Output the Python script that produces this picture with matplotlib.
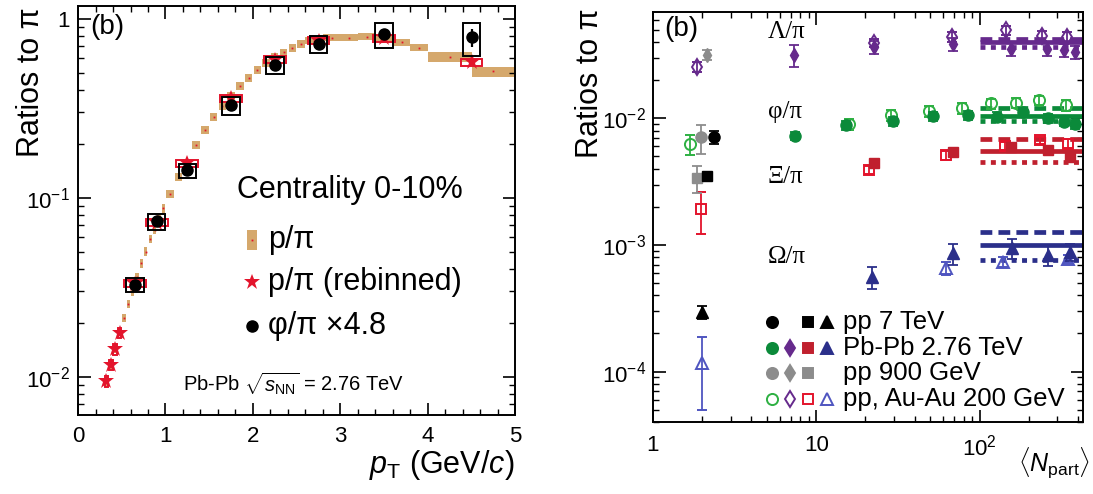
import matplotlib
matplotlib.use('Agg')
import matplotlib.pyplot as plt
import numpy as np
from matplotlib.ticker import FixedLocator, MultipleLocator, LogLocator, NullFormatter, FixedFormatter

plt.rcParams['font.family'] = ['Liberation Sans', 'DejaVu Sans']
plt.rcParams['mathtext.fontset'] = 'custom'
plt.rcParams['mathtext.rm'] = 'Liberation Sans'
plt.rcParams['mathtext.it'] = 'Liberation Sans:italic'
plt.rcParams['mathtext.bf'] = 'Liberation Sans:bold'

# ---------------- Left panel data ----------------
ppi_pt = [0.325, 0.375, 0.425, 0.475, 0.525, 0.575, 0.625, 0.675, 0.725, 0.775, 0.825, 0.875, 0.925, 0.975,
          1.05, 1.15, 1.25, 1.35, 1.45, 1.55, 1.65, 1.75, 1.85, 1.95, 2.05, 2.15, 2.25, 2.35, 2.45, 2.55,
          2.7, 2.9, 3.1, 3.3, 3.5, 3.7, 3.9, 4.25, 4.75]
ppi_val = [0.0094, 0.0117, 0.0144, 0.0178, 0.0213, 0.0255, 0.0300, 0.0360, 0.0430, 0.0500, 0.0590, 0.0660,
           0.0760, 0.0870, 0.105, 0.130, 0.155, 0.198, 0.240, 0.282, 0.325, 0.370, 0.420, 0.468, 0.518,
           0.568, 0.612, 0.648, 0.690, 0.722, 0.755, 0.785, 0.782, 0.796, 0.780, 0.737, 0.691, 0.611, 0.508]
ppi_w = [0.038] * 14 + [0.085] * 16 + [0.2] * 7 + [0.5] * 2
ppi_sys = [0.055] * 14 + [0.05] * 16 + [0.045] * 7 + [0.065] * 2

reb_pt = [0.325, 0.375, 0.425, 0.475, 0.65, 0.9, 1.25, 1.75, 2.25, 2.75, 3.5, 4.5]
reb_val = [0.0094, 0.0116, 0.0142, 0.0175, 0.033, 0.0725, 0.156, 0.36, 0.59, 0.756, 0.78, 0.57]
reb_w = [0.04] * 4 + [0.25] * 8
reb_sys = [0.065] * 4 + [0.045] * 8

phi_pt = [0.65, 0.9, 1.25, 1.75, 2.25, 2.75, 3.5, 4.5]
phi_val = [0.0327, 0.0737, 0.142, 0.328, 0.553, 0.722, 0.821, 0.786]
phi_sys = [0.09, 0.10, 0.09, 0.12, 0.11, 0.11, 0.16, 0.21]
phi_stat = [0.01, 0.01, 0.01, 0.01, 0.015, 0.02, 0.03, 0.11]
phi_w = 0.2

# ---------------- Right panel data ----------------
# pp 7 TeV (black)
pp7_phi_n, pp7_phi_v, pp7_phi_e = [2.37], [0.0071], [0.0008]
pp7_xi_n, pp7_xi_v = [2.13], [0.00351]
pp7_om_n, pp7_om_v, pp7_om_e = [2.0], [2.93e-4], [0.35e-4]
# pp 900 GeV (gray)
pp9_phi_n, pp9_phi_v, pp9_phi_e = [1.98], [0.00705], [0.0018]
pp9_lam_n, pp9_lam_v, pp9_lam_e = [2.15], [0.0317], [0.0028]
pp9_xi_n, pp9_xi_v, pp9_xi_e = [1.85], [0.00339], [0.00081]
# Pb-Pb 2.76 TeV (filled, coloured)
pb_phi_n = [7.45, 15.3, 29.5, 52, 85.6, 128, 184, 262, 330, 383]
pb_phi_v = [0.00726, 0.00881, 0.0095, 0.0104, 0.0106, 0.0103, 0.0112, 0.0100, 0.0094, 0.0090]
pb_lam_n = [7.27, 22.6, 68.5, 157, 260, 330, 383]
pb_lam_v = [0.0317, 0.0364, 0.0387, 0.0353, 0.0353, 0.0343, 0.0332]
pb_lam_e = [0.0062, 0.0045, 0.0045, 0.0042, 0.0042, 0.0040, 0.0040]
pb_xi_n = [22.6, 69, 157, 263, 356]
pb_xi_v = [0.0044, 0.00543, 0.00594, 0.0056, 0.00496]
pb_om_n = [22, 69, 158, 263, 356]
pb_om_v = [5.6e-4, 8.6e-4, 9.4e-4, 8.33e-4, 8.85e-4]
pb_om_e = [1.1e-4, 1.6e-4, 1.7e-4, 1.5e-4, 1.4e-4]
# pp, Au-Au 200 GeV (open)
au_phi_n = [1.68, 15.8, 28.5, 49, 78.6, 118, 168, 232, 338]
au_phi_v = [0.00624, 0.0090, 0.0106, 0.0114, 0.0121, 0.0131, 0.0133, 0.0139, 0.0127]
au_phi_e = [0.0011, 0.0009, 0.0010, 0.0011, 0.0012, 0.0012, 0.0012, 0.0012, 0.0012]
au_lam_n = [1.85, 22.6, 68, 146, 240, 345]
au_lam_v = [0.0254, 0.0393, 0.0442, 0.0494, 0.045, 0.0437]
au_lam_e = [0.0022, 0.003, 0.004, 0.004, 0.004, 0.004]
au_xi_n = [1.98, 21, 62.6, 143, 234, 350]
au_xi_v = [0.00192, 0.0039, 0.0051, 0.00605, 0.0067, 0.0063]
au_xi_e = [0.0007, 0.0003, 0.0004, 0.0004, 0.0004, 0.0005]
au_om_n = [2.0, 62.6, 140, 350]
au_om_v = [1.18e-4, 6.56e-4, 7.4e-4, 7.8e-4]
au_om_e = [0.68e-4, 0.8e-4, 0.7e-4, 0.6e-4]
# model lines (dashed, solid, dotted)
model_n = [100, 450]
lam_model = [0.0425, 0.0400, 0.0365]
phi_model = [0.0121, 0.0104, 0.0096]
xi_model = [0.00692, 0.0055, 0.00453]
om_model = [1.27e-3, 1.0e-3, 7.6e-4]

# ---------------- colours ----------------
TAN = '#D5A86C'
RED = '#E3142C'
GREEN = '#0B8A3A'
LGREEN = '#2DB042'
PURPLE = '#662A8C'
DRED = '#C0202E'
BLUE = '#2B2F8A'
LBLUE = '#4F55C0'
GRAY = '#8C8C8C'

fig = plt.figure(figsize=(10.93, 4.94), dpi=100)
axL = fig.add_axes([0.0714, 0.160, 0.400, 0.828])
axR = fig.add_axes([0.5974, 0.1457, 0.3934, 0.830])

# ================= LEFT =================
axL.set_yscale('log')
pv = np.array(ppi_val); ps = np.array(ppi_sys)
axL.bar(ppi_pt, 2 * pv * ps, bottom=pv * (1 - ps), width=ppi_w, color=TAN, linewidth=0, zorder=1)
axL.plot(ppi_pt, ppi_val, 's', ms=1.3, color=RED, mew=0, zorder=2)
rv = np.array(reb_val); rs = np.array(reb_sys)
axL.bar(reb_pt, 2 * rv * rs, bottom=rv * (1 - rs), width=reb_w, fill=False, edgecolor=RED, linewidth=1.4, zorder=3)
axL.plot(reb_pt, reb_val, '*', ms=12, color=RED, mew=0, zorder=4)
fv = np.array(phi_val); fs = np.array(phi_sys)
axL.bar(phi_pt, 2 * fv * fs, bottom=fv * (1 - fs), width=phi_w, fill=False, edgecolor='black', linewidth=1.4, zorder=5)
axL.errorbar(phi_pt, phi_val, yerr=fv * np.array(phi_stat), fmt='o', ms=8, color='black',
             elinewidth=1.6, capsize=0, zorder=6)

axL.set_xlim(0, 5)
axL.set_ylim(0.0061, 1.18)
axL.xaxis.set_major_locator(MultipleLocator(1))
axL.xaxis.set_minor_locator(MultipleLocator(0.2))
axL.yaxis.set_major_locator(FixedLocator([0.01, 0.1, 1]))
axL.yaxis.set_major_formatter(FixedFormatter(['10$^{-2}$', '10$^{-1}$', '1']))
axL.yaxis.set_minor_locator(LogLocator(base=10, subs=np.arange(2, 10)))
axL.yaxis.set_minor_formatter(NullFormatter())

axL.text(0.066, 0.949, '(b)', transform=axL.transAxes, fontsize=20, ha='center', va='center')
axL.text(0.364, 0.550, 'Centrality 0-10%', transform=axL.transAxes, fontsize=22, va='center')
leg_x, txt_x = 0.398, 0.435
rect = [(-0.55, -1), (0.55, -1), (0.55, 1), (-0.55, 1), (-0.55, -1)]
axL.plot([leg_x], [0.428], marker=rect, ms=14, color=TAN, mew=0, linestyle='none', transform=axL.transAxes)
axL.plot([leg_x], [0.428], 's', ms=1.3, color=RED, mew=0, transform=axL.transAxes)
axL.text(txt_x, 0.428, 'p/π', transform=axL.transAxes, fontsize=22, va='center')
axL.plot([leg_x], [0.325], '*', ms=12, color=RED, mew=0, transform=axL.transAxes)
axL.text(txt_x, 0.325, 'p/π (rebinned)', transform=axL.transAxes, fontsize=22, va='center')
axL.plot([leg_x], [0.218], 'o', ms=8, color='black', transform=axL.transAxes)
axL.text(txt_x, 0.218, 'φ/π ×4.8', transform=axL.transAxes, fontsize=22, va='center')
axL.text(0.240, 0.078, 'Pb-Pb $\\sqrt{s_{\\mathrm{NN}}}$ = 2.76 TeV', transform=axL.transAxes,
         fontsize=14.5, va='center')

# ================= RIGHT =================
axR.set_xscale('log')
axR.set_yscale('log')
eb = dict(capsize=3.5, elinewidth=1.3, capthick=1.3, linestyle='none')

# model lines
for vals, col in [(lam_model, PURPLE), (phi_model, GREEN), (xi_model, DRED), (om_model, BLUE)]:
    axR.plot(model_n, [vals[0]] * 2, color=col, lw=3.4, linestyle=(0, (2.5, 1.3)), solid_capstyle='butt', zorder=2)
    axR.plot(model_n, [vals[1]] * 2, color=col, lw=3.4, linestyle='-', solid_capstyle='butt', zorder=2)
    axR.plot(model_n, [vals[2]] * 2, color=col, lw=3.4, linestyle=(0, (1.05, 1.15)), zorder=2)

# open (pp, Au-Au 200)
axR.errorbar(au_phi_n, au_phi_v, yerr=au_phi_e, marker='o', ms=8, mfc='none', mec=LGREEN, color=LGREEN, mew=1.4, **eb, zorder=3)
axR.errorbar(au_lam_n, au_lam_v, yerr=au_lam_e, marker='d', ms=8, mfc='none', mec=PURPLE, color=PURPLE, mew=1.4, **eb, zorder=3)
axR.errorbar(au_xi_n, au_xi_v, yerr=au_xi_e, marker='s', ms=7, mfc='none', mec=RED, color=RED, mew=1.4, **eb, zorder=3)
axR.errorbar(au_om_n, au_om_v, yerr=au_om_e, marker='^', ms=8, mfc='none', mec=LBLUE, color=LBLUE, mew=1.4, **eb, zorder=3)
# Pb-Pb filled
axR.errorbar(pb_phi_n, pb_phi_v, yerr=np.array(pb_phi_v) * 0.08, marker='o', ms=8, color=GREEN, **eb, zorder=4)
axR.errorbar(pb_lam_n, pb_lam_v, yerr=pb_lam_e, marker='d', ms=7, color=PURPLE, **eb, zorder=4)
axR.errorbar(pb_xi_n, pb_xi_v, yerr=np.array(pb_xi_v) * 0.06, marker='s', ms=7, color=DRED, **eb, zorder=4)
axR.errorbar(pb_om_n, pb_om_v, yerr=pb_om_e, marker='^', ms=8, color=BLUE, **eb, zorder=4)
# pp 900
axR.errorbar(pp9_phi_n, pp9_phi_v, yerr=pp9_phi_e, marker='o', ms=8, color=GRAY, **eb, zorder=4)
axR.errorbar(pp9_lam_n, pp9_lam_v, yerr=pp9_lam_e, marker='d', ms=7, color=GRAY, **eb, zorder=4)
axR.errorbar(pp9_xi_n, pp9_xi_v, yerr=pp9_xi_e, marker='s', ms=7, color=GRAY, **eb, zorder=4)
# pp 7
axR.errorbar(pp7_phi_n, pp7_phi_v, yerr=pp7_phi_e, marker='o', ms=8, color='black', **eb, zorder=5)
axR.plot(pp7_xi_n, pp7_xi_v, 's', ms=7, color='black', zorder=5)
axR.errorbar(pp7_om_n, pp7_om_v, yerr=pp7_om_e, marker='^', ms=8, color='black', **eb, zorder=5)

axR.set_xlim(1, 430)
axR.set_ylim(4.0e-5, 0.069)
axR.xaxis.set_major_locator(FixedLocator([1, 10, 100]))
axR.xaxis.set_major_formatter(FixedFormatter(['1', '10', '10$^2$']))
axR.xaxis.set_minor_locator(LogLocator(base=10, subs=np.arange(2, 10)))
axR.xaxis.set_minor_formatter(NullFormatter())
axR.yaxis.set_major_locator(FixedLocator([1e-4, 1e-3, 1e-2]))
axR.yaxis.set_major_formatter(FixedFormatter(['10$^{-4}$', '10$^{-3}$', '10$^{-2}$']))
axR.yaxis.set_minor_locator(LogLocator(base=10, subs=np.arange(2, 10)))
axR.yaxis.set_minor_formatter(NullFormatter())

axR.text(0.065, 0.959, '(b)', transform=axR.transAxes, fontsize=20, ha='center', va='center')
serif = ['Liberation Serif', 'DejaVu Serif']
for lbl, yy in [('Λ/π', 0.951), ('φ/π', 0.756), ('Ξ/π', 0.598), ('Ω/π', 0.402)]:
    axR.text(0.267, yy, lbl, transform=axR.transAxes, fontsize=18, family=serif, va='center')

cols = [0.277, 0.319, 0.360, 0.405]
rows = [0.244, 0.180, 0.120, 0.056]
leg_rows = [
    ('pp 7 TeV', [('o', 'black', True), None, ('s', 'black', True), ('^', 'black', True)]),
    ('Pb-Pb 2.76 TeV', [('o', GREEN, True), ('d', PURPLE, True), ('s', DRED, True), ('^', BLUE, True)]),
    ('pp 900 GeV', [('o', GRAY, True), ('d', GRAY, True), ('s', GRAY, True), None]),
    ('pp, Au-Au 200 GeV', [('o', LGREEN, False), ('d', PURPLE, False), ('s', RED, False), ('^', LBLUE, False)]),
]
for (label, syms), yy in zip(leg_rows, rows):
    for sym, xx in zip(syms, cols):
        if sym is None:
            continue
        m, c, filled = sym
        axR.plot([xx], [yy], m, ms=8 if m != 's' else 7, color=c, mfc=c if filled else 'none', mec=c,
                 mew=1.4, transform=axR.transAxes, clip_on=False)
    axR.text(0.442, yy, label, transform=axR.transAxes, fontsize=18.5, va='center')

for ax in (axL, axR):
    ax.tick_params(which='both', direction='in', top=True, right=True, labelsize=16)
    ax.tick_params(which='major', length=9, width=1.2)
    ax.tick_params(which='minor', length=4.5, width=1.0)
    for s in ax.spines.values():
        s.set_linewidth(1.4)
axL.tick_params(axis='x', pad=8)
axL.tick_params(axis='y', pad=6)
axR.tick_params(axis='x', pad=9)
axR.tick_params(axis='y', pad=5)

fig.text(0.028, 0.985, 'Ratios to π', rotation=90, fontsize=22, ha='center', va='top')
fig.text(0.540, 0.984, 'Ratios to π', rotation=90, fontsize=22, ha='center', va='top')
fig.text(0.471, 0.0425, '$p_{\\mathrm{T}}$ (GeV/$c$)', fontsize=22, ha='right', va='baseline')
fig.text(0.997, 0.0445, '$\\langle N_{\\mathrm{part}}\\rangle$', fontsize=18, ha='right', va='baseline')

fig.savefig('out.png', dpi=100)
